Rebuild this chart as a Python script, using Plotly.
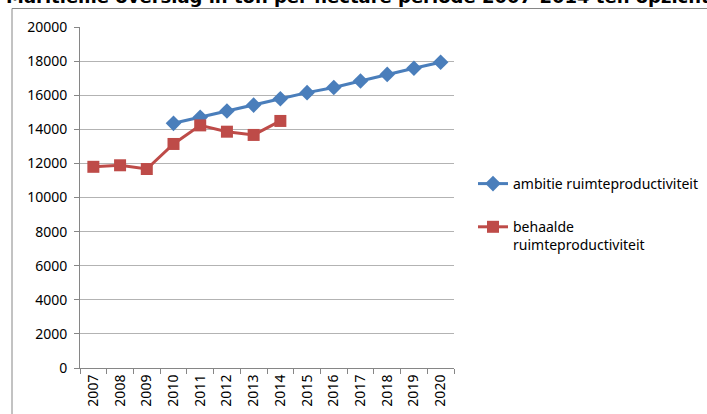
import plotly.graph_objects as go

years = [str(y) for y in range(2007, 2021)]
ambitie_years = ["2010", "2011", "2012", "2013", "2014", "2015", "2016", "2017", "2018", "2019", "2020"]
ambitie = [14350, 14700, 15070, 15420, 15790, 16150, 16450, 16830, 17220, 17580, 17930]
behaald_years = ["2007", "2008", "2009", "2010", "2011", "2012", "2013", "2014"]
behaald = [11800, 11890, 11670, 13140, 14230, 13860, 13670, 14490]
y_ticks = list(range(0, 20001, 2000))
y_labels = [str(v) for v in y_ticks]

W, H = 707, 414
L, R, T, B = 80, 454, 27, 368

def px(x):
    return (x - L) / (R - L)

def py(y):
    return (B - y) / (B - T)

fig = go.Figure()
fig.add_trace(go.Scatter(
    x=ambitie_years, y=ambitie, mode="lines+markers",
    name="ambitie ruimteproductiviteit", legendgroup="a",
    line=dict(color="#4A7EBB", width=3),
    marker=dict(symbol="diamond", size=12, color="#4A7EBB"),
))
fig.add_trace(go.Scatter(
    x=behaald_years, y=behaald, mode="lines+markers",
    name="behaalde<br>ruimteproductiviteit", legendgroup="b",
    line=dict(color="#BE4B48", width=3),
    marker=dict(symbol="square", size=12, color="#BE4B48"),
))

fig.update_layout(
    width=W, height=H,
    margin=dict(l=L, r=W - R, t=T, b=H - B, autoexpand=False),
    paper_bgcolor="white", plot_bgcolor="white",
    font=dict(family="Noto Sans", size=14, color="#000000"),
    showlegend=True,
    legend=dict(x=px(473), y=py(168), xanchor="left", yanchor="top",
                traceorder="grouped", tracegroupgap=22, valign="top",
                font=dict(family="Noto Sans", size=14),
                bgcolor="rgba(0,0,0,0)"),
    xaxis=dict(type="category", categoryorder="array", categoryarray=years,
               tickvals=years, ticktext=years,
               range=[-0.5, len(years) - 0.5],
               tickangle=-90, ticks="outside", tickson="boundaries",
               ticklen=5, tickcolor="#868686", automargin=False,
               showline=True, linecolor="#868686", linewidth=1,
               showgrid=False, zeroline=False,
               tickfont=dict(family="Noto Sans", size=14)),
    yaxis=dict(range=[0, 20000], tickvals=y_ticks, ticktext=y_labels,
               ticks="outside", ticklen=5, tickcolor="#868686", automargin=False,
               showline=True, linecolor="#868686", linewidth=1,
               showgrid=True, gridcolor="#B3B3B3", gridwidth=1,
               zeroline=False, ticklabelstandoff=4,
               tickfont=dict(family="Noto Sans", size=14)),
    shapes=[dict(type="rect", xref="paper", yref="paper",
                 x0=px(12), x1=px(800), y0=py(500), y1=py(8.5),
                 line=dict(color="#868686", width=1))],
    annotations=[dict(text="<b>Maritieme overslag in ton per hectare periode 2007-2014 ten opzichte van de ambitie</b>",
                      xref="paper", yref="paper", x=px(4), y=py(-4),
                      xanchor="left", yanchor="middle", showarrow=False,
                      font=dict(family="DejaVu Sans", size=18, color="#000000"))],
)

fig.write_html("out.html", config={"displayModeBar": False},
               post_script="document.body.style.margin='0';document.body.style.padding='0';")
